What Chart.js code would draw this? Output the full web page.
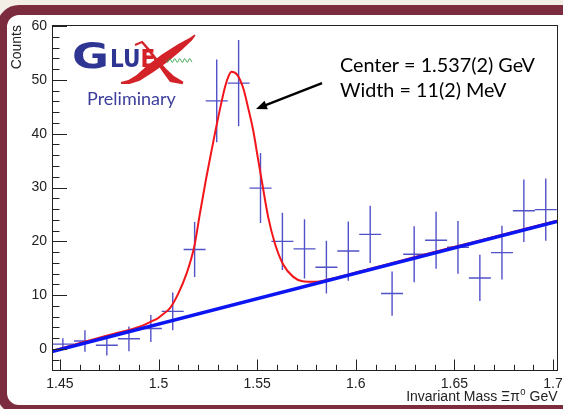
<!DOCTYPE html>
<html>
<head>
<meta charset="utf-8">
<title>Xi pi0 invariant mass</title>
<script src="https://cdn.jsdelivr.net/npm/chart.js@4.4.0/dist/chart.umd.min.js"></script>
<style>
	html, body { margin: 0; padding: 0; width: 563px; height: 409px; overflow: hidden; background: #f3efe6; }
	#panel { position: absolute; left: -3px; top: 5px; width: 620px; height: 410px; box-sizing: border-box;
		border: 10px solid #7c2c3f; border-radius: 22px; background: #ffffff; }
	#wrap { position: absolute; left: 0; top: 0; width: 563px; height: 409px; }
</style>
</head>
<body>
<div id="panel"></div>
<div id="wrap"><canvas id="massChart" width="563" height="409"></canvas></div>
<script>
// histogram bins (GeV) and contents
const binCenters = [1.4515, 1.4627, 1.4738, 1.4850, 1.4961, 1.5072, 1.5183, 1.5295, 1.5406, 1.5517, 1.5628, 1.5740,
	1.5851, 1.5962, 1.6073, 1.6184, 1.6296, 1.6407, 1.6518, 1.6629, 1.6741, 1.6852, 1.6963];
const counts = [0.9, 1.5, 0.7, 1.9, 3.8, 7.0, 18.5, 46.1, 49.4, 29.9, 20.0, 18.6,
	15.2, 18.2, 21.3, 10.3, 17.6, 20.2, 18.9, 13.2, 17.9, 25.7, 25.9];
const countErrors = [1.1, 2.0, 1.9, 2.3, 2.5, 3.5, 5.1, 7.7, 8.0, 6.5, 5.3, 5.5,
	4.9, 5.5, 5.3, 4.1, 5.2, 5.3, 4.9, 4.3, 5.0, 5.8, 5.8];
const binWidth = 0.01115;

// total fit (peak + background)
const fitMass = [1.446, 1.455, 1.462, 1.470, 1.478, 1.4855, 1.4915, 1.4956, 1.500, 1.5024, 1.5058, 1.510,
	1.5142, 1.5181, 1.521, 1.524, 1.5269, 1.5303, 1.5337, 1.5355, 1.537, 1.540, 1.543, 1.5455, 1.548,
	1.5505, 1.5526, 1.5556, 1.559, 1.5632, 1.5683, 1.573, 1.579, 1.586, 1.600, 1.630, 1.660, 1.702];
const fitCounts = [-0.35, 0.55, 1.3, 2.1, 2.9, 3.6, 4.3, 5.0, 5.8, 6.5, 7.6, 10.3,
	14.0, 19.0, 25.2, 31.4, 36.9, 43.1, 48.7, 50.7, 51.5, 50.9, 48.4, 44.7, 40.6,
	35.2, 30.7, 24.5, 19.6, 15.7, 13.4, 12.6, 12.5, 12.9, 14.2, 17.1, 19.9, 23.85];

// linear background
const bgMass = [1.446, 1.702];
const bgCounts = [-0.46, 23.68];

// axis ticks
const xMajorTicks = [1.45, 1.5, 1.55, 1.6, 1.65, 1.7];
const yMajorTicks = [0, 10, 20, 30, 40, 50, 60];

const xRange = [1.446, 1.702];
const yRange = [-3.9, 60.2];

const axisFont = 'Liberation Sans, Arial, sans-serif';

function drawCrosses(chart) {
	const ctx = chart.ctx;
	const xs = chart.scales.x;
	const ys = chart.scales.y;
	const area = chart.chartArea;
	ctx.save();
	ctx.beginPath();
	ctx.rect(area.left, area.top, area.right - area.left, area.bottom - area.top);
	ctx.clip();
	ctx.strokeStyle = 'rgba(50, 50, 190, 0.85)';
	ctx.lineWidth = 1.4;
	binCenters.forEach(function(x, i) {
		const px = xs.getPixelForValue(x);
		const py = ys.getPixelForValue(counts[i]);
		ctx.beginPath();
		ctx.moveTo(xs.getPixelForValue(x - binWidth / 2), py);
		ctx.lineTo(xs.getPixelForValue(x + binWidth / 2), py);
		ctx.moveTo(px, ys.getPixelForValue(counts[i] - countErrors[i]));
		ctx.lineTo(px, ys.getPixelForValue(counts[i] + countErrors[i]));
		ctx.stroke();
	});
	ctx.restore();
}

function drawFrame(chart) {
	const ctx = chart.ctx;
	const xs = chart.scales.x;
	const ys = chart.scales.y;
	const a = chart.chartArea;
	ctx.save();
	ctx.strokeStyle = '#222';
	ctx.lineWidth = 1;
	ctx.strokeRect(Math.round(a.left) + 0.5, Math.round(a.top) + 0.5, Math.round(a.right - a.left), Math.round(a.bottom - a.top));

	// ticks point into the frame, 5 subdivisions per major step
	ctx.beginPath();
	for (let k = Math.ceil(yRange[0] / 2); k * 2 <= yRange[1]; k++) {
		const v = k * 2;
		const len = (v % 10 === 0) ? 15 : 7.5;
		const py = Math.round(ys.getPixelForValue(v)) + 0.5;
		ctx.moveTo(a.left, py);
		ctx.lineTo(a.left + len, py);
	}
	for (let k = Math.ceil(xRange[0] * 100 - 1e-6); k <= Math.floor(xRange[1] * 100 + 1e-6); k++) {
		const len = (k % 5 === 0) ? 10.5 : 5.2;
		const px = Math.round(xs.getPixelForValue(k / 100)) + 0.5;
		ctx.moveTo(px, a.bottom);
		ctx.lineTo(px, a.bottom - len);
	}
	ctx.stroke();

	// axis titles
	ctx.fillStyle = '#222';
	ctx.textBaseline = 'alphabetic';
	const parts = ['Invariant Mass \u039E\u03C0', '0', ' GeV'];
	ctx.font = '14px ' + axisFont;
	const w0 = ctx.measureText(parts[0]).width;
	const w2 = ctx.measureText(parts[2]).width;
	ctx.font = '9.5px ' + axisFont;
	const w1 = ctx.measureText(parts[1]).width;
	const tx = a.right - (w0 + w1 + w2);
	const base = 401;
	ctx.font = '14px ' + axisFont;
	ctx.fillText(parts[0], tx, base);
	ctx.font = '9.5px ' + axisFont;
	ctx.fillText(parts[1], tx + w0 + 0.5, base - 6);
	ctx.font = '14px ' + axisFont;
	ctx.fillText(parts[2], tx + w0 + w1 + 0.5, base);

	ctx.save();
	ctx.translate(21, a.top);
	ctx.rotate(-Math.PI / 2);
	ctx.textAlign = 'right';
	ctx.font = '14px ' + axisFont;
	ctx.fillText('Counts', 0, 0);
	ctx.restore();
	ctx.restore();
}

// filled stroke whose width changes along the points
function taperedStroke(ctx, pts, widths) {
	const left = [], right = [];
	for (let i = 0; i < pts.length; i++) {
		const a = pts[Math.max(i - 1, 0)], b = pts[Math.min(i + 1, pts.length - 1)];
		const dx = b[0] - a[0], dy = b[1] - a[1];
		const len = Math.hypot(dx, dy) || 1;
		const nx = -dy / len, ny = dx / len, h = widths[i] / 2;
		left.push([pts[i][0] + nx * h, pts[i][1] + ny * h]);
		right.push([pts[i][0] - nx * h, pts[i][1] - ny * h]);
	}
	ctx.beginPath();
	ctx.moveTo(left[0][0], left[0][1]);
	left.forEach(function(p) { ctx.lineTo(p[0], p[1]); });
	right.reverse().forEach(function(p) { ctx.lineTo(p[0], p[1]); });
	ctx.closePath();
	ctx.fill();
}

function drawAnnotations(chart) {
	const ctx = chart.ctx;
	const xs = chart.scales.x;
	const ys = chart.scales.y;

	// fit result text
	ctx.save();
	ctx.fillStyle = '#000';
	ctx.font = '19.8px Lato, "Open Sans", sans-serif';
	ctx.textBaseline = 'alphabetic';
	ctx.fillText('Center = 1.537(2) GeV', 340, 72);
	ctx.fillText('Width = 11(2) MeV', 340, 97);

	// arrow to the peak
	const hx = xs.getPixelForValue(1.5494), hy = ys.getPixelForValue(44.6);
	const sx = xs.getPixelForValue(1.5829), sy = ys.getPixelForValue(49.4);
	const ang = Math.atan2(hy - sy, hx - sx);
	ctx.strokeStyle = '#000';
	ctx.lineWidth = 2.5;
	ctx.beginPath();
	ctx.moveTo(sx, sy);
	ctx.lineTo(hx - 7 * Math.cos(ang), hy - 7 * Math.sin(ang));
	ctx.stroke();
	ctx.beginPath();
	ctx.moveTo(hx, hy);
	ctx.lineTo(hx - 11 * Math.cos(ang) + 4.5 * Math.sin(ang), hy - 11 * Math.sin(ang) - 4.5 * Math.cos(ang));
	ctx.lineTo(hx - 11 * Math.cos(ang) - 4.5 * Math.sin(ang), hy - 11 * Math.sin(ang) + 4.5 * Math.cos(ang));
	ctx.closePath();
	ctx.fill();
	ctx.restore();

	// GlueX logo
	ctx.save();
	ctx.textBaseline = 'alphabetic';
	ctx.fillStyle = '#2e3592';
	ctx.font = 'bold 36px "DejaVu Sans"';
	ctx.setTransform(1.25, 0, 0, 1, 72, 68);
	ctx.fillText('G', 0, 0);
	ctx.font = 'bold 24px "DejaVu Sans"';
	ctx.setTransform(0.9, 0, 0, 1, 110, 67);
	ctx.fillText('LU', 0, 0);
	const luW = ctx.measureText('LU').width;
	ctx.fillStyle = '#d42229';
	ctx.fillText('E', luW, 0);
	ctx.setTransform(1, 0, 0, 1, 0, 0);
	// script X
	taperedStroke(ctx, [[195, 35], [191, 39], [180, 47], [165, 58], [150, 69], [138, 78], [129, 82], [121, 83]],
		[1.5, 3.5, 7, 9.5, 9, 6.5, 4, 2]);
	taperedStroke(ctx, [[135, 45], [142, 42], [149, 50], [157, 61], [165, 71], [172, 79], [183, 83]],
		[2, 2.5, 2.5, 3, 5, 7, 2.5]);
	ctx.strokeStyle = '#2f9e44';
	ctx.lineWidth = 1;
	ctx.beginPath();
	for (let x = 166; x <= 192; x += 0.5) {
		const y = 60.5 + 1.8 * Math.sin((x - 166) * 2 * Math.PI / 5);
		if (x === 166) ctx.moveTo(x, y); else ctx.lineTo(x, y);
	}
	ctx.stroke();
	ctx.fillStyle = '#3c3e9c';
	ctx.font = '18px Lato, "Open Sans", sans-serif';
	ctx.fillText('Preliminary', 87, 105);
	ctx.restore();
}

const rootStyle = {
	id: 'rootStyle',
	beforeDatasetsDraw: function(chart) {
		drawCrosses(chart);
	},
	afterDraw: function(chart) {
		drawFrame(chart);
		drawAnnotations(chart);
	}
};

document.addEventListener('DOMContentLoaded', function() {
	const ctx = document.getElementById('massChart').getContext('2d');
	const chart = new Chart(ctx, {
		type: 'line',
		data: {
			datasets: [
				{
					label: 'background',
					data: bgMass.map(function(x, i) { return { x: x, y: bgCounts[i] }; }),
					borderColor: '#0b16f2',
					borderWidth: 3.5,
					pointRadius: 0
				},
				{
					label: 'fit',
					data: fitMass.map(function(x, i) { return { x: x, y: fitCounts[i] }; }),
					borderColor: '#f2161a',
					borderWidth: 2,
					pointRadius: 0,
					cubicInterpolationMode: 'monotone'
				},
				{
					label: 'data',
					data: binCenters.map(function(x, i) { return { x: x, y: counts[i] }; }),
					showLine: false,
					pointRadius: 0
				}
			]
		},
		options: {
			responsive: false,
			animation: false,
			events: [],
			layout: { padding: { left: 0, top: 25, right: 6, bottom: 0 } },
			plugins: { legend: { display: false }, tooltip: { enabled: false } },
			scales: {
				x: {
					type: 'linear',
					min: xRange[0],
					max: xRange[1],
					grid: { display: false, drawTicks: false },
					border: { display: false },
					afterBuildTicks: function(scale) {
						scale.ticks = xMajorTicks.map(function(v) { return { value: v }; });
					},
					afterFit: function(scale) {
						scale.height = 39;
						scale.paddingLeft = 0;
						scale.paddingRight = 0;
					},
					ticks: {
						autoSkip: false,
						maxRotation: 0,
						padding: 6,
						color: '#222',
						font: { family: axisFont, size: 14 },
						callback: function(v) { return String(v); }
					}
				},
				y: {
					min: yRange[0],
					max: yRange[1],
					grid: { display: false, drawTicks: false },
					border: { display: false },
					afterBuildTicks: function(scale) {
						scale.ticks = yMajorTicks.map(function(v) { return { value: v }; });
					},
					afterFit: function(scale) {
						scale.width = 52;
						scale.paddingTop = 0;
						scale.paddingBottom = 0;
					},
					ticks: {
						autoSkip: false,
						padding: 5,
						color: '#222',
						font: { family: axisFont, size: 14 },
						callback: function(v) { return String(v); }
					}
				}
			}
		},
		plugins: [rootStyle]
	});
	console.log(chart.chartArea);
});
</script>
</body>
</html>
